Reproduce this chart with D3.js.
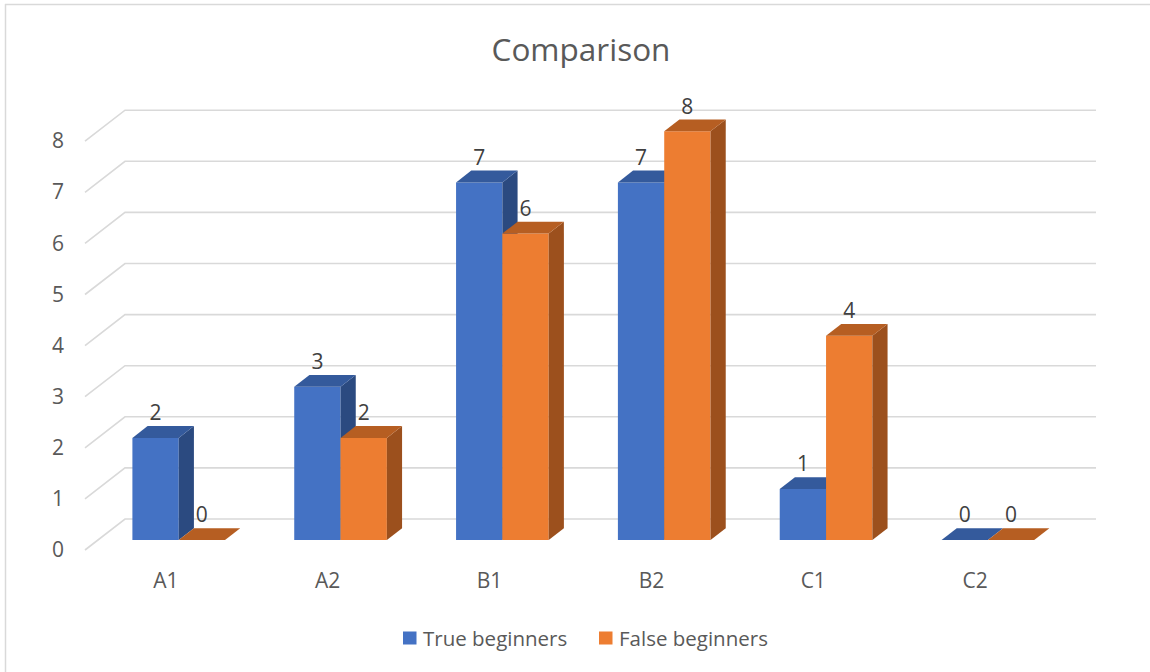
<!DOCTYPE html>
<html>
<head>
<meta charset="utf-8">
<script src="https://cdn.jsdelivr.net/npm/d3@7"></script>
<style>
  html, body { margin: 0; padding: 0; background: #fff; }
  svg { display: block; font-family: "Open Sans", "Noto Sans", sans-serif; }
</style>
</head>
<body>
<svg id="chart" width="1150" height="672"></svg>
<script>
// Chart data
const categories = ["A1", "A2", "B1", "B2", "C1", "C2"];
const seriesNames = ["True beginners", "False beginners"];
const trueBeginners = [2, 3, 7, 7, 1, 0];
const falseBeginners = [0, 2, 6, 8, 4, 0];
const yTicks = [0, 1, 2, 3, 4, 5, 6, 7, 8];

const seriesValues = [trueBeginners, falseBeginners];
const palette = [
  { front: "#4472C4", top: "#345A9C", side: "#2B4A80" },
  { front: "#ED7D31", top: "#B65E22", side: "#9C501D" }
];

const svg = d3.select("#chart");
const W = 1150, H = 672;

// Outer frame (top and left edges visible)
svg.append("line").attr("x1", 5).attr("x2", W).attr("y1", 4.5).attr("y2", 4.5)
  .attr("stroke", "#d9d9d9").attr("stroke-width", 1.5);
svg.append("line").attr("x1", 5.5).attr("x2", 5.5).attr("y1", 4).attr("y2", H)
  .attr("stroke", "#d9d9d9").attr("stroke-width", 1.5);

// Oblique projection: depth z in [0,1] shifts right and up
const depthDX = 40, depthDY = -31;
const x0 = d3.scaleBand().domain(categories).range([85, 1056]).paddingInner(0).paddingOuter(0);
const x1 = d3.scaleBand().domain(seriesNames).range([0, x0.bandwidth()]).paddingInner(0).paddingOuter(0.747);
const y = d3.scaleLinear().domain([0, 8]).range([550, 550 - 8 * 51.1]);
const P = (x, v, z) => [x + depthDX * z, y(v) + depthDY * z];

// Side-wall and back-wall gridlines
const grid = svg.append("g");
yTicks.forEach(t => {
  const a = P(85, t, 0), b = P(85, t, 1), c = P(1056, t, 1);
  grid.append("polyline")
    .attr("points", [a, b, c].map(p => p.join(",")).join(" "))
    .attr("fill", "none").attr("stroke", "#d9d9d9").attr("stroke-width", 1.6);
});

// Y axis labels
svg.append("g").selectAll("text").data(yTicks).join("text")
  .attr("x", 58).attr("y", d => y(d) + 1.5)
  .attr("text-anchor", "middle").attr("dominant-baseline", "middle")
  .attr("font-size", 21).attr("fill", "#595959")
  .text(d => d);

// Category labels
svg.append("g").selectAll("text").data(categories).join("text")
  .attr("x", d => x0(d) + x0.bandwidth() / 2).attr("y", 588)
  .attr("text-anchor", "middle")
  .attr("font-size", 21).attr("fill", "#595959")
  .text(d => d);

// 3D columns
const zFront = 0.32, zBack = 0.70;
const poly = pts => pts.map(p => p.join(",")).join(" ");
const bars = svg.append("g");
categories.forEach((cat, ci) => {
  seriesNames.forEach((s, si) => {
    const v = seriesValues[si][ci];
    const xl = x0(cat) + x1(s), xr = xl + x1.bandwidth();
    const col = palette[si];
    const g = bars.append("g");
    // front face
    g.append("polygon").attr("points", poly([P(xl, 0, zFront), P(xr, 0, zFront), P(xr, v, zFront), P(xl, v, zFront)]))
      .attr("fill", col.front);
    // right side face
    g.append("polygon").attr("points", poly([P(xr, 0, zFront), P(xr, 0, zBack), P(xr, v, zBack), P(xr, v, zFront)]))
      .attr("fill", col.side);
    // top face
    g.append("polygon").attr("points", poly([P(xl, v, zFront), P(xr, v, zFront), P(xr, v, zBack), P(xl, v, zBack)]))
      .attr("fill", col.top);
    // value label
    g.append("text")
      .attr("x", (xl + xr) / 2 + depthDX * zFront)
      .attr("y", P(xl, v, zBack)[1] - 6)
      .attr("text-anchor", "middle")
      .attr("font-size", 21).attr("fill", "#404040")
      .text(v);
  });
});

// Title
svg.append("text").attr("x", 581).attr("y", 61)
  .attr("text-anchor", "middle").attr("font-size", 31.5).attr("fill", "#595959")
  .text("Comparison");

// Legend
const legendX = [403, 599];
const legend = svg.append("g");
seriesNames.forEach((s, i) => {
  legend.append("rect").attr("x", legendX[i]).attr("y", 631.5).attr("width", 13.5).attr("height", 13)
    .attr("fill", palette[i].front);
  legend.append("text").attr("x", legendX[i] + 20).attr("y", 646)
    .attr("font-size", 20.5).attr("fill", "#595959").text(s);
});
</script>
</body>
</html>
